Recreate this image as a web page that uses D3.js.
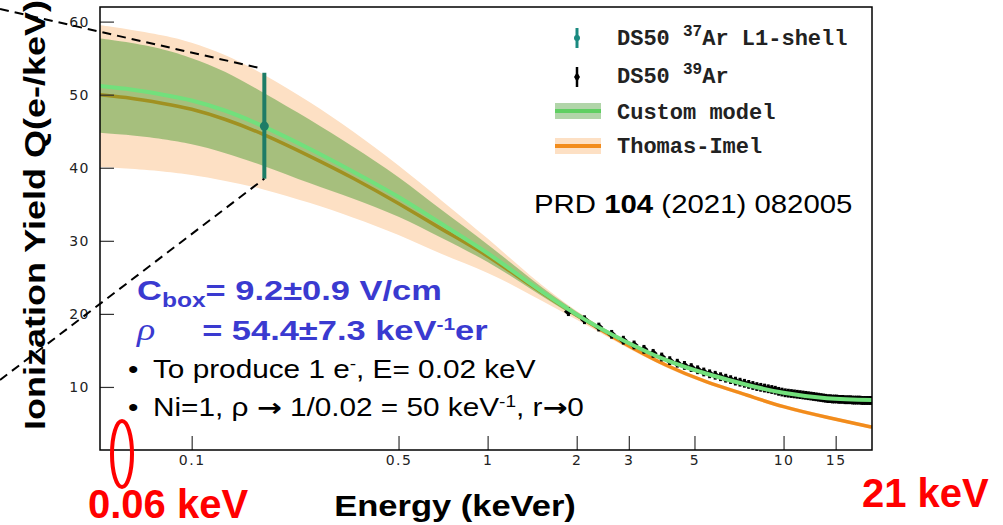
<!DOCTYPE html>
<html>
<head>
<meta charset="utf-8">
<title>Ionization yield</title>
<style>
  html, body { margin: 0; padding: 0; background: #fff; }
  svg { display: block; }
  .tick text { font-family: "DejaVu Sans", sans-serif; font-size: 14px; fill: #222; letter-spacing: 1.5px; }
  .tick line { stroke: #333; stroke-width: 1.2; }
</style>
</head>
<body>
<div id="graph"></div>
<script src="https://cdnjs.cloudflare.com/ajax/libs/d3/7.8.5/d3.min.js"></script>
<script>
// model curves (energy in keVer, Q in e-/keV)
var modelE   = [0.049, 0.06, 0.08, 0.1, 0.13, 0.176, 0.25, 0.35, 0.5, 0.7, 1.0, 1.4, 2.0, 2.8, 4.0, 5.5, 7.5, 10, 14, 19.9];
var customQ  = [51.2, 50.8, 50.0, 49.2, 47.8, 45.6, 42.6, 39.5, 36.0, 32.3, 28.3, 24.1, 19.9, 16.6, 13.7, 11.8, 10.3, 9.2, 8.45, 8.2];
var customHi = [57.7, 57.2, 56.2, 55.0, 53.1, 50.2, 46.6, 42.9, 38.7, 34.2, 29.5, 24.8, 20.3, 16.9, 13.95, 12.05, 10.55, 9.45, 8.7, 8.45];
var customLo = [44.8, 44.5, 43.9, 43.2, 42.0, 40.2, 37.9, 35.8, 33.3, 30.4, 27.1, 23.4, 19.5, 16.3, 13.45, 11.55, 10.05, 8.95, 8.2, 7.95];
var timelQ   = [50.0, 49.6, 48.8, 48.0, 46.6, 44.5, 41.6, 38.6, 35.1, 31.6, 27.9, 23.9, 19.8, 16.3, 13.0, 10.7, 8.9, 7.3, 5.85, 4.5];
var timelHi  = [59.5, 59.0, 58.1, 57.1, 55.4, 52.7, 49.0, 45.0, 40.3, 35.5, 30.3, 25.2, 20.4, 16.7, 13.3, 10.95, 9.15, 7.55, 6.1, 4.75];
var timelLo  = [40.1, 39.9, 39.5, 39.0, 38.2, 37.0, 35.2, 33.2, 30.8, 28.2, 25.6, 22.6, 19.2, 15.9, 12.7, 10.45, 8.65, 7.05, 5.6, 4.25];

// DS50 37Ar L1-shell point
var ar37E = [0.176];
var ar37Q = [45.7];
var ar37Lo = [38.5];
var ar37Hi = [53.0];

// DS50 39Ar points
var ar39E = [1.875, 2.125, 2.375, 2.625, 2.875, 3.125, 3.375, 3.625, 3.875, 4.125,
             4.375, 4.625, 4.875, 5.125, 5.375, 5.625, 5.875, 6.125, 6.375, 6.625,
             6.875, 7.125, 7.375, 7.625, 7.875, 8.125, 8.375, 8.625, 8.875, 9.125,
             9.375, 9.625, 9.875, 10.125, 10.375, 10.625, 10.875, 11.125, 11.375, 11.625,
             11.875, 12.125, 12.375, 12.625, 12.875, 13.125, 13.375, 13.625, 13.875, 14.125,
             14.375, 14.625, 14.875, 15.125, 15.375, 15.625, 15.875, 16.125, 16.375, 16.625,
             16.875, 17.125, 17.375, 17.625, 17.875, 18.125, 18.375, 18.625, 18.875, 19.125,
             19.375, 19.625, 19.875];
var ar39Q = [20.3, 19.2, 18.2, 17.2, 16.4, 15.75, 15.15, 14.6, 14.1, 13.6,
             13.25, 12.95, 12.65, 12.35, 12.05, 11.8, 11.6, 11.4, 11.2, 11.0,
             10.8, 10.65, 10.5, 10.35, 10.2, 10.05, 9.95, 9.85, 9.75, 9.65,
             9.55, 9.4, 9.3, 9.2, 9.15, 9.1, 9.05, 9.0, 8.95, 8.9,
             8.85, 8.8, 8.75, 8.7, 8.65, 8.6, 8.55, 8.5, 8.45, 8.4,
             8.4, 8.35, 8.35, 8.35, 8.3, 8.3, 8.3, 8.25, 8.25, 8.25,
             8.25, 8.2, 8.2, 8.2, 8.2, 8.2, 8.15, 8.15, 8.15, 8.15,
             8.15, 8.15, 8.15];
var ar39Err = 0.6;

// axes
var xMajor = [0.1, 0.5, 1, 2, 3, 5, 10, 15];
var xMinor = [0.06, 0.07, 0.08, 0.09, 0.2, 0.3, 0.4, 0.6, 0.7, 0.8, 0.9, 4, 6, 7, 8, 9];
var yMajor = [10, 20, 30, 40, 50, 60];
var yMinor = [2, 4, 6, 8, 12, 14, 16, 18, 22, 24, 26, 28, 32, 34, 36, 38, 42, 44, 46, 48, 52, 54, 56, 58];

var legendLabels = [["DS50 ", "37", "Ar L1-shell"], ["DS50 ", "39", "Ar"], ["Custom model"], ["Thomas-Imel"]];

var width = 1003, height = 525;
var svg = d3.select("#graph").append("svg").attr("width", width).attr("height", height);

var x = d3.scaleLog().domain([0.049, 19.9]).range([100, 872]);
var y = d3.scaleLinear().domain([1.37, 62]).range([450, 7]);

var band = function(lo, hi) {
  return d3.area()
    .x(function(d, i) { return x(modelE[i]); })
    .y0(function(d, i) { return y(lo[i]); })
    .y1(function(d, i) { return y(hi[i]); })
    .curve(d3.curveNatural);
};
var line = d3.line()
  .x(function(d, i) { return x(modelE[i]); })
  .y(function(d) { return y(d); })
  .curve(d3.curveNatural);

svg.append("clipPath").attr("id", "plotclip")
  .append("rect").attr("x", 100).attr("y", 7).attr("width", 772).attr("height", 443);

var plot = svg.append("g").attr("clip-path", "url(#plotclip)");

plot.append("path").datum(modelE).attr("d", band(timelLo, timelHi)).attr("fill", "#fde0c4");
plot.append("path").datum(timelQ).attr("d", line).attr("fill", "none").attr("stroke", "#f28c1c").attr("stroke-width", 3.5);
plot.append("path").datum(modelE).attr("d", band(customLo, customHi)).attr("fill", "#3c9628").attr("fill-opacity", 0.45);

// 39Ar data: error bars and diamonds
var ar39 = plot.append("g");
ar39.selectAll("line").data(ar39E).enter().append("line")
  .attr("x1", function(d) { return x(d); }).attr("x2", function(d) { return x(d); })
  .attr("y1", function(d, i) { return y(ar39Q[i] - ar39Err); })
  .attr("y2", function(d, i) { return y(ar39Q[i] + ar39Err); })
  .attr("stroke", "#000").attr("stroke-width", 3);
ar39.selectAll("path").data(ar39E).enter().append("path")
  .attr("transform", function(d, i) { return "translate(" + x(d) + "," + y(ar39Q[i]) + ")"; })
  .attr("d", "M0,-4L4.5,0L0,4L-4.5,0Z").attr("fill", "#000");

plot.append("path").datum(customQ).attr("d", line).attr("fill", "none").attr("stroke", "#72e07c").attr("stroke-width", 4);

// axes
var gx = svg.append("g").attr("transform", "translate(0,450)");
gx.call(d3.axisBottom(x).tickValues(xMinor).tickSizeInner(-6).tickSizeOuter(0).tickFormat(""));
gx.call(d3.axisBottom(x).tickValues(xMajor).tickSizeInner(-14).tickSizeOuter(0).tickPadding(5).tickFormat(d3.format("")));
var gy = svg.append("g").attr("transform", "translate(100,0)");
gy.call(d3.axisLeft(y).tickValues(yMinor).tickSizeInner(-7).tickSizeOuter(0).tickFormat(""));
gy.call(d3.axisLeft(y).tickValues(yMajor).tickSizeInner(-14).tickSizeOuter(0).tickPadding(10));
svg.selectAll(".domain").remove();

svg.append("rect").attr("x", 100).attr("y", 7).attr("width", 772).attr("height", 443)
  .attr("fill", "none").attr("stroke", "#000").attr("stroke-width", 1.5);

// 37Ar point
var p37 = svg.append("g");
p37.append("line")
  .attr("x1", x(ar37E[0])).attr("x2", x(ar37E[0]))
  .attr("y1", y(ar37Lo[0])).attr("y2", y(ar37Hi[0]))
  .attr("stroke", "#1e7c66").attr("stroke-width", 4);
p37.append("circle").attr("cx", x(ar37E[0])).attr("cy", y(ar37Q[0])).attr("r", 4.5).attr("fill", "#1e7c66");

// zoom guide lines
svg.append("line").attr("x1", 0).attr("y1", 9).attr("x2", x(ar37E[0]) - 6).attr("y2", y(ar37Hi[0]) - 5)
  .attr("stroke", "#000").attr("stroke-width", 2).attr("stroke-dasharray", "9,6");
svg.append("line").attr("x1", 0).attr("y1", 380).attr("x2", x(ar37E[0])).attr("y2", y(ar37Lo[0]))
  .attr("stroke", "#000").attr("stroke-width", 2).attr("stroke-dasharray", "9,6");

// legend
var leg = svg.append("g");
var rowY = [45, 83, 119, 153];
leg.append("line").attr("x1", 577).attr("x2", 577).attr("y1", 28).attr("y2", 48).attr("stroke", "#1a8a80").attr("stroke-width", 3);
leg.append("circle").attr("cx", 577).attr("cy", 38).attr("r", 3).attr("fill", "#1a8a80");
leg.append("line").attr("x1", 577).attr("x2", 577).attr("y1", 67).attr("y2", 87).attr("stroke", "#000").attr("stroke-width", 2.5);
leg.append("path").attr("transform", "translate(577,77)").attr("d", "M0,-5L3,0L0,5L-3,0Z").attr("fill", "#000");
leg.append("rect").attr("x", 555).attr("y", 103).attr("width", 46).attr("height", 16).attr("fill", "#3c9628").attr("fill-opacity", 0.4);
leg.append("line").attr("x1", 555).attr("x2", 601).attr("y1", 111).attr("y2", 111).attr("stroke", "#5fcf62").attr("stroke-width", 4);
leg.append("rect").attr("x", 555).attr("y", 138).attr("width", 46).attr("height", 16).attr("fill", "#fde0c4");
leg.append("line").attr("x1", 555).attr("x2", 601).attr("y1", 146).attr("y2", 146).attr("stroke", "#f28c1c").attr("stroke-width", 4);

legendLabels.forEach(function(parts, i) {
  var t = leg.append("text").attr("x", 617).attr("y", rowY[i])
    .attr("font-family", "Liberation Mono, monospace").attr("font-size", 22).attr("font-weight", "bold").attr("fill", "#222");
  t.append("tspan").text(parts[0]);
  if (parts.length > 1) {
    t.append("tspan").attr("font-size", 16).attr("dy", -9).text(parts[1]);
    t.append("tspan").attr("font-size", 22).attr("dy", 9).text(parts[2]);
  }
});

// stretched slide text
function slideText(x0, y0, sx, size, weight, fill) {
  return svg.append("text")
    .attr("transform", "translate(" + x0 + "," + y0 + ") scale(" + sx + ",1)")
    .attr("font-family", "Liberation Sans, Arial, sans-serif")
    .attr("font-size", size).attr("font-weight", weight).attr("fill", fill);
}

var prd = slideText(534, 213, 1.13, 26, "normal", "#000");
prd.append("tspan").text("PRD ");
prd.append("tspan").attr("font-weight", "bold").text("104");
prd.append("tspan").text(" (2021) 082005");

var blue = "#3a3ad0";
var b1 = slideText(137, 300, 1.23, 28, "bold", blue);
b1.append("tspan").text("C");
b1.append("tspan").attr("font-size", 20).attr("dy", 7).text("box");
b1.append("tspan").attr("dy", -7).text("= 9.2\u00b10.9 V/cm");

var b2 = slideText(137, 340, 1.23, 28, "bold", blue);
b2.append("tspan").attr("font-family", "Liberation Serif, serif").attr("font-style", "italic").attr("font-weight", "normal").attr("font-size", 31).text("\u03c1");
b2.append("tspan").attr("x", 53).text("= 54.4\u00b17.3 keV");
b2.append("tspan").attr("font-size", 17).attr("dy", -10).text("-1");
b2.append("tspan").attr("dy", 10).text("er");

var l1 = slideText(128, 378, 1.19, 25, "normal", "#000");
l1.append("tspan").text("\u2022");
l1.append("tspan").attr("x", 21).text("To produce 1 e");
l1.append("tspan").attr("font-size", 16).attr("dy", -9).text("-");
l1.append("tspan").attr("dy", 9).text(", E= 0.02 keV");

var l2 = slideText(128, 416, 1.19, 25, "normal", "#000");
l2.append("tspan").text("\u2022");
l2.append("tspan").attr("x", 21).text("Ni=1, \u03c1 ");
l2.append("tspan").attr("font-family", "DejaVu Sans, sans-serif").attr("font-weight", "bold").text("\u2192");
l2.append("tspan").text(" 1/0.02 = 50 keV");
l2.append("tspan").attr("font-size", 16).attr("dy", -9).text("-1");
l2.append("tspan").attr("dy", 9).text(", r");
l2.append("tspan").attr("font-family", "DejaVu Sans, sans-serif").attr("font-weight", "bold").text("\u2192");
l2.append("tspan").text("0");

// axis titles
slideText(455, 516, 1.19, 29, "bold", "#000").attr("text-anchor", "middle").text("Energy (keVer)");
svg.append("text")
  .attr("transform", "translate(45,215) rotate(-90) scale(1.2,1)")
  .attr("text-anchor", "middle")
  .attr("font-family", "Liberation Sans, Arial, sans-serif")
  .attr("font-size", 30).attr("font-weight", "bold").attr("fill", "#000")
  .text("Ionization Yield Q(e-/keV)");

// red annotations
svg.append("ellipse").attr("cx", 122).attr("cy", 454).attr("rx", 10).attr("ry", 33)
  .attr("fill", "none").attr("stroke", "#f00").attr("stroke-width", 4);
svg.append("text").attr("x", 88).attr("y", 518)
  .attr("font-family", "Liberation Sans, Arial, sans-serif").attr("font-size", 40).attr("font-weight", "bold").attr("fill", "#f00")
  .text("0.06 keV");
svg.append("text").attr("x", 862).attr("y", 507)
  .attr("font-family", "Liberation Sans, Arial, sans-serif").attr("font-size", 40).attr("font-weight", "bold").attr("fill", "#f00")
  .text("21 keV");
</script>
</body>
</html>
